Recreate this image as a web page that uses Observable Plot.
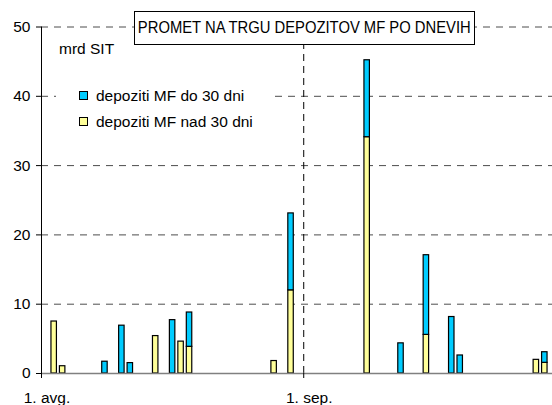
<!DOCTYPE html>
<html>
<head>
<meta charset="utf-8">
<script src="https://cdn.jsdelivr.net/npm/d3@7"></script>
<script src="https://cdn.jsdelivr.net/npm/@observablehq/plot@0.6"></script>
<style>
  body { margin: 0; overflow: hidden; background: #fff; font-family: "Liberation Sans", Arial, sans-serif; }
  #wrap { position: relative; width: 552px; height: 405px; overflow: hidden; background: #fff; }
  #chart { position: absolute; left: 0; top: 0; }
  #title { position: absolute; left: 134px; top: 11px; width: 339px; height: 32px; border: 1px solid #000; background: #fff;
           display: flex; align-items: center; justify-content: center; }
  #title span { display: inline-block; font-size: 17px; transform: scaleX(0.87); white-space: nowrap; }
  #unit { position: absolute; left: 59px; top: 40px; font-size: 15.5px; line-height: 17px; }
  #legend { position: absolute; left: 56px; top: 83px; width: 215px; height: 52px; background: #fff; }
  .item { position: absolute; left: 23px; font-size: 15.5px; line-height: 17px; display: flex; align-items: center; white-space: nowrap; }
  .sw { width: 7px; height: 7px; border: 1px solid #000; margin-right: 8px; }
</style>
</head>
<body>
<div id="wrap">
  <div id="chart"></div>
  <div id="title"><span>PROMET NA TRGU DEPOZITOV MF PO DNEVIH</span></div>
  <div id="unit">mrd SIT</div>
  <div id="legend"></div>
</div>
<script>
// ---- data ----
const days  = ["2000-08-02","2000-08-03","2000-08-08","2000-08-10","2000-08-11","2000-08-14","2000-08-16","2000-08-17","2000-08-18",
               "2000-08-28","2000-08-30","2000-09-08","2000-09-12","2000-09-15","2000-09-18","2000-09-19","2000-09-28","2000-09-29"];
const nad30 = [7.5, 1.05, 0, 0, 0, 5.4, 0, 4.6, 3.85, 1.8, 12.0, 34.1, 0, 5.57, 0, 0, 1.97, 1.54];
const do30  = [0, 0, 1.7, 6.9, 1.5, 0, 7.7, 0, 4.95, 0, 11.1, 11.1, 4.35, 11.5, 8.15, 2.6, 0, 1.53];
const seriesNames = ["depoziti MF nad 30 dni", "depoziti MF do 30 dni"];
const seriesColors = ["#FFFF99", "#00CCFF"];
const legendOrder = ["depoziti MF do 30 dni", "depoziti MF nad 30 dni"];
const yTicks = [0, 10, 20, 30, 40, 50];
const xTickDates = ["2000-08-01", "2000-09-01"];
const xTickLabels = ["1. avg.", "1. sep."];
const xStart = "2000-08-01", xEnd = "2000-10-01";

// ---- build table ----
const rows = [];
days.forEach((d, i) => {
  const start = new Date(d + "T00:00:00Z");
  const end = d3.utcDay.offset(start, 1);
  const a = nad30[i], b = do30[i];
  if (a > 0) rows.push({start, end, series: seriesNames[0], y1: 0, y2: a});
  if (b > 0) rows.push({start, end, series: seriesNames[1], y1: a, y2: a + b});
});
const tickDates = xTickDates.map(d => new Date(d + "T00:00:00Z"));
const labelOf = new Map(tickDates.map((d, i) => [+d, xTickLabels[i]]));

const chart = Plot.plot({
  width: 552,
  height: 405,
  marginLeft: 41,
  marginRight: 0,
  marginTop: 26.5,
  marginBottom: 32,
  style: {fontFamily: "Liberation Sans, Arial, sans-serif", fontSize: "15px", background: "#fff", color: "#000"},
  x: {type: "utc", domain: [new Date(xStart + "T00:00:00Z"), new Date(xEnd + "T00:00:00Z")], range: [41, 557], axis: null},
  y: {domain: [0, 50], axis: null},
  color: {domain: seriesNames, range: seriesColors},
  marks: [
    Plot.ruleY(yTicks.filter(v => v > 0), {stroke: "#4d4d4d", strokeWidth: 1, strokeDasharray: "7,6"}),
    Plot.ruleX([tickDates[1]], {y1: 0, y2: 50, stroke: "#000", strokeWidth: 1, strokeDasharray: "7,5"}),
    Plot.rect(rows, {x1: "start", x2: "end", y1: "y1", y2: "y2", fill: "series", stroke: "#000", strokeWidth: 1.2, insetLeft: 1.5, insetRight: 1.5}),
    Plot.ruleY([0], {stroke: "#808080", strokeWidth: 1.5}),
    Plot.ruleX([tickDates[0]], {y1: 0, y2: 50, stroke: "#000", strokeWidth: 1}),
    Plot.axisY({ticks: yTicks, tickSize: 5, tickPadding: 6, fontSize: 15.5, label: null}),
    Plot.axisX({ticks: tickDates, tickSize: 5, tickFormat: () => "", label: null}),
    Plot.axisX({ticks: tickDates, tickSize: 0, tickPadding: 18, dx: 5.5, fontSize: 15.5, tickFormat: d => labelOf.get(+d), label: null})
  ]
});
document.getElementById("chart").appendChild(chart);

// ---- legend ----
const legend = document.getElementById("legend");
const legendTops = [3.5, 30];
legendOrder.forEach((name, i) => {
  const item = document.createElement("div");
  item.className = "item";
  item.style.top = legendTops[i] + "px";
  const sw = document.createElement("div");
  sw.className = "sw";
  sw.style.background = seriesColors[seriesNames.indexOf(name)];
  const t = document.createElement("span");
  t.textContent = name;
  item.appendChild(sw);
  item.appendChild(t);
  legend.appendChild(item);
});
</script>
</body>
</html>
